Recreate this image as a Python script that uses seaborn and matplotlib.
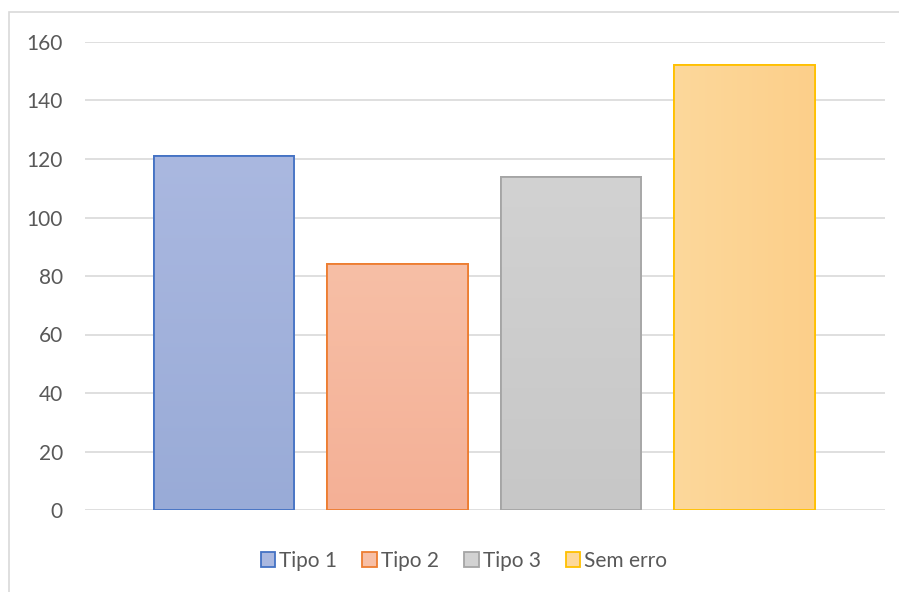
import numpy as np
import pandas as pd
import matplotlib
matplotlib.use("Agg")
import matplotlib.pyplot as plt
import seaborn as sns
from matplotlib.colors import LinearSegmentedColormap
from matplotlib.patches import Rectangle

# Data
categories = ["Tipo 1", "Tipo 2", "Tipo 3", "Sem erro"]
counts = [121, 84, 114, 152]
y_ticks = [0, 20, 40, 60, 80, 100, 120, 140, 160]

# Styling
edge_colors = ["#4472C4", "#ED7D31", "#A5A5A5", "#FFC000"]
grad_start = ["#AAB8E0", "#F7BFA6", "#D2D2D2", "#FDD89B"]
grad_end = ["#99ABD7", "#F4B096", "#C7C7C7", "#FCCF8A"]
grad_dir = ["v", "v", "v", "h"]
text_color = "#595959"
grid_color = "#D9D9D9"

sns.set_theme(style="white")
plt.rcParams["font.family"] = ["Lato", "DejaVu Sans"]

fig = plt.figure(figsize=(8.99, 5.92), dpi=100)
W, H = 899, 592
ax = fig.add_axes([85 / W, (H - 510) / H, 800 / W, (510 - 42) / H])

df = pd.DataFrame({"categoria": categories, "valor": counts})
sns.barplot(data=df, x="categoria", y="valor", hue="categoria",
            palette=grad_start, dodge=False, width=0.81, legend=False, ax=ax,
            zorder=3)

for i, bar in enumerate(ax.patches):
    bar.set_edgecolor(edge_colors[i])
    bar.set_linewidth(1.3)
    x0, y0 = bar.get_x(), bar.get_y()
    w, h = bar.get_width(), bar.get_height()
    cmap = LinearSegmentedColormap.from_list(f"g{i}", [grad_start[i], grad_end[i]])
    if grad_dir[i] == "v":
        grad = np.linspace(0, 1, 256).reshape(-1, 1)
    else:
        grad = np.linspace(0, 1, 256).reshape(1, -1)
    im = ax.imshow(grad, cmap=cmap, aspect="auto", origin="upper",
                   extent=(x0, x0 + w, y0, y0 + h), zorder=3.5,
                   interpolation="bilinear")
    im.set_clip_path(bar)
    # outline on top of gradient
    ax.add_patch(Rectangle((x0, y0), w, h, fill=False,
                           edgecolor=edge_colors[i], linewidth=1.3, zorder=4))

ax.set_xlim(-0.80, 3.81)
ax.set_ylim(0, 160)
ax.set_yticks(y_ticks)
ax.set_xticks([])
ax.set_xlabel("")
ax.set_ylabel("")
ax.yaxis.grid(True, color=grid_color, linewidth=1.2, zorder=0)
ax.set_axisbelow(True)
for s in ax.spines.values():
    s.set_visible(False)
ax.tick_params(axis="y", length=0, pad=16, labelsize=15, labelcolor=text_color)

# Legend at the bottom
handles = [Rectangle((0, 0), 1, 1, facecolor=grad_start[i], edgecolor=edge_colors[i],
                     linewidth=1.3) for i in range(len(categories))]
fig.legend(handles, categories, loc="center", bbox_to_anchor=(464 / W, 1 - 561 / H),
           ncol=4, frameon=False, fontsize=15, labelcolor=text_color,
           handlelength=0.7, handleheight=0.7, handletextpad=0.2,
           columnspacing=1.2)

# Chart area border
fig.add_artist(Rectangle((9 / W, -0.05), 1.0, 1 - 12 / H + 0.05,
                         transform=fig.transFigure, fill=False,
                         edgecolor="#D9D9D9", linewidth=1.2))

fig.savefig("out.png", dpi=100, facecolor="white")
